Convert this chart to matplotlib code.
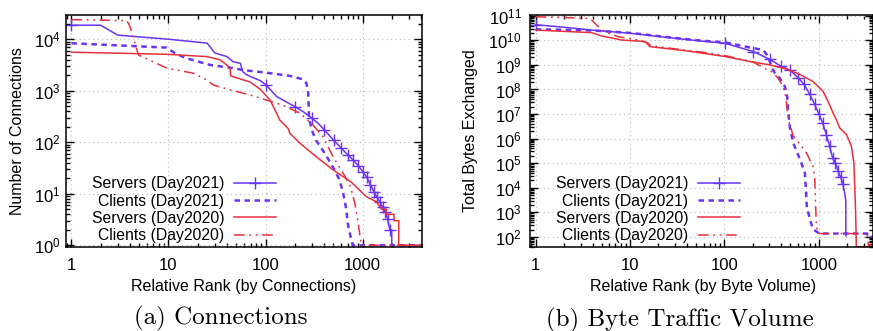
import numpy as np
import matplotlib
matplotlib.use("Agg")
import matplotlib.pyplot as plt
from matplotlib.ticker import LogLocator, NullFormatter, LogFormatterSciNotation

plt.rcParams['font.family'] = ['Liberation Sans', 'DejaVu Sans']
plt.rcParams['mathtext.fontset'] = 'custom'
plt.rcParams['mathtext.rm'] = 'Liberation Sans'

BLUE = '#6a34f5'
RED = '#e8303c'

labels = ['Servers (Day2021)', 'Clients (Day2021)', 'Servers (Day2020)', 'Clients (Day2020)']

# ---- (a) Connections ----
conn_s21_rank = [1, 2, 3, 10, 25, 30, 40, 46, 55, 58, 64, 88, 101, 130, 160, 201, 250, 301, 350, 401,
                 501, 601, 701, 801, 901, 1001, 1101, 1201, 1301, 1401, 1501, 1601, 1701, 1801, 1901, 1990, 1992]
conn_s21_val = [18700, 18700, 12000, 10000, 8400, 5400, 4600, 3670, 3400, 2350, 2030, 1570, 1300, 770, 620, 490, 380, 290, 230, 175,
                110, 77, 57, 45, 35, 27, 21, 15, 11, 8.5, 7, 5.5, 4.5, 3.3, 2, 2, 1]

conn_c21_rank = [1, 9.6, 11.6, 15.3, 26.7, 46, 58.6, 102, 178, 244, 263, 275, 280, 300, 330, 407, 514, 578, 630, 680, 700, 750, 790, 3950]
conn_c21_val = [8340, 6870, 5360, 4270, 3170, 2750, 2520, 2240, 1940, 1660, 1400, 900, 300, 170, 110, 61, 29, 18.5, 10.2, 4.8, 2.7, 1.47, 1, 1]

conn_s20_rank = [1, 9.6, 24.7, 33.8, 39.7, 43, 43.7, 69, 87.6, 111, 130, 140, 170, 178, 227, 334, 496, 757, 1090, 1380, 1570, 1750, 1750, 2100, 2100, 2350, 2350, 3950]
conn_s20_val = [5600, 5100, 4600, 4000, 3170, 2750, 1940, 1480, 1080, 660, 365, 270, 187, 149, 95, 52, 29, 17, 8.8, 7, 5, 5, 4, 4, 3, 3, 1, 1]

conn_c20_rank = [1, 3.7, 3.9, 4.17, 4.9, 9.6, 18, 24.7, 29, 43, 69, 102, 150, 227, 307, 390, 496, 630, 750, 830, 890, 930, 970, 3950]
conn_c20_val = [24000, 23000, 19900, 14000, 4950, 2750, 2190, 1620, 1290, 1040, 830, 660, 525, 365, 217, 128, 52, 25, 13.7, 6.5, 3.1, 1.7, 1, 1]

# ---- (b) Byte Traffic Volume ----
byte_s21_rank = [1, 2, 4, 10, 30, 55, 101, 201, 301, 401, 501, 601, 701, 801, 901, 1001, 1101, 1201, 1301,
                 1401, 1501, 1601, 1701, 1801, 1880, 1930, 1935]
byte_s21_val = [4.3e10, 3.4e10, 2.6e10, 1.93e10, 1.2e10, 9.4e9, 7.6e9, 3.5e9, 1.7e9, 8.6e8, 6.0e8, 3.0e8, 1.6e8, 6.3e7, 2.5e7,
                1.0e7, 4.2e6, 1.45e6, 4.9e5, 1.6e5, 1.05e5, 4.6e4, 2.8e4, 1.4e4, 6000, 3000, 110]

byte_c21_rank = [1, 1.7, 4, 10, 30, 55, 101, 201, 257, 290, 315, 342, 386, 437, 462, 473, 493, 535, 580, 634, 711, 730, 745,
                 804, 868, 980, 1000, 3250, 3300, 3750]
byte_c21_val = [2.8e10, 2.7e10, 2.5e10, 2.0e10, 1.25e10, 9.8e9, 8.3e9, 4.8e9, 4.1e9, 2.2e9, 8.5e8, 4.6e8, 2.9e8, 1.3e8, 5.2e7,
                1.5e7, 2.8e6, 6.8e5, 3.1e5, 1.4e5, 4.1e4, 8500, 1800, 525, 205, 150, 137, 137, 100, 100]

byte_s20_rank = [1, 3.9, 5, 8.1, 14.4, 16.3, 38, 101, 186, 302, 455, 634, 868, 1111, 1250, 1417, 1530, 1669, 1965, 2215, 2350,
                 2400, 2450, 2490, 2495, 3750]
byte_s20_val = [2.6e10, 2.05e10, 1.5e10, 1.03e10, 8.9e9, 5.5e9, 3.8e9, 2.2e9, 1.37e9, 1e9, 6.7e8, 4e8, 2.1e8, 8.3e7, 3.3e7,
                1.1e7, 5.9e6, 2.7e6, 1.45e6, 4.9e5, 1.04e5, 1.2e4, 1300, 80, 40, 40]

byte_c20_rank = [1, 3.76, 4.42, 5.4, 7.5, 12.2, 15.6, 16.5, 38, 62, 101, 201, 278, 315, 370, 419, 446, 462, 486, 535, 634, 739,
                 868, 907, 922, 943, 980, 1000, 3250, 3350, 3750]
byte_c20_val = [9.1e10, 7.8e10, 4.2e10, 2.2e10, 1.4e10, 1.03e10, 7.6e9, 6e9, 4e9, 3.2e9, 2.4e9, 1.3e9, 6.7e8, 5.4e8, 2.9e8,
                1.3e8, 5.2e7, 1.5e7, 4.4e6, 1.3e6, 5.8e5, 2.6e5, 7.6e4, 2.2e4, 2500, 280, 150, 137, 137, 45, 45]

W, H = 873, 331
fig = plt.figure(figsize=(W / 100, H / 100), dpi=100)


def px_axes(l, t, r, b):
    return fig.add_axes([l / W, 1 - b / H, (r - l) / W, (b - t) / H])


def style(ax, ypad):
    ax.set_xscale('log')
    ax.set_yscale('log')
    ax.xaxis.set_major_locator(LogLocator(base=10, numticks=20))
    ax.yaxis.set_major_locator(LogLocator(base=10, numticks=20))
    ax.xaxis.set_minor_locator(LogLocator(base=10, subs=np.arange(2, 10), numticks=20))
    ax.yaxis.set_minor_locator(LogLocator(base=10, subs=np.arange(2, 10), numticks=20))
    ax.xaxis.set_minor_formatter(NullFormatter())
    ax.yaxis.set_minor_formatter(NullFormatter())
    ax.xaxis.set_major_formatter(matplotlib.ticker.FuncFormatter(lambda v, p: '%d' % round(v)))
    ax.yaxis.set_major_formatter(LogFormatterSciNotation())
    ax.tick_params(which='both', direction='in', top=True, right=True, width=1.0, colors='black')
    ax.tick_params(which='major', length=5.5)
    ax.tick_params(which='minor', length=2.8)
    ax.tick_params(axis='x', which='major', pad=8, labelsize=12)
    ax.tick_params(axis='y', which='major', pad=ypad, labelsize=12)
    ax.grid(True, which='major', color='#b8b8b8', linestyle=(0, (1, 3)), linewidth=0.8)
    for s in ax.spines.values():
        s.set_linewidth(1.1)


def draw(ax, data):
    (r1, v1), (r2, v2), (r3, v3), (r4, v4) = data
    mk = [i for i, r in enumerate(r1) if float(r).is_integer() and (int(r) - 1) % 100 == 0]
    ax.plot(r1, v1, color=BLUE, lw=1.1, marker='+', markersize=8, markeredgewidth=1.0, markevery=mk, label=labels[0])
    ax.plot(r2, v2, color=BLUE, lw=1.8, linestyle=(0, (2.2, 1.8)), label=labels[1])
    ax.plot(r3, v3, color=RED, lw=1.1, label=labels[2])
    ax.plot(r4, v4, color=RED, lw=1.1, linestyle=(0, (7, 3, 1.2, 3, 1.2, 3)), label=labels[3])


ax1 = px_axes(66, 15, 421.7, 246.7)
style(ax1, 4.0)
draw(ax1, [(conn_s21_rank, conn_s21_val), (conn_c21_rank, conn_c21_val),
           (conn_s20_rank, conn_s20_val), (conn_c20_rank, conn_c20_val)])
ax1.set_xlim(0.88, 4050)
ax1.set_ylim(0.94, 29500)

ax2 = px_axes(530, 15, 873, 246.7)
style(ax2, 6)
draw(ax2, [(byte_s21_rank, byte_s21_val), (byte_c21_rank, byte_c21_val),
           (byte_s20_rank, byte_s20_val), (byte_c20_rank, byte_c20_val)])
ax2.set_xlim(0.87, 3750)
ax2.set_ylim(40, 1.07e11)

for ax, lx, xlab, xcx, ylx, ylab in [(ax1, 276, 'Relative Rank (by Connections)', 243.8, 18, 'Number of Connections'),
                                      (ax2, 740, 'Relative Rank (by Byte Volume)', 703, 471, 'Total Bytes Exchanged')]:
    leg = ax.legend(loc='upper right', bbox_to_anchor=(lx / W, 1 - 176.5 / H), bbox_transform=fig.transFigure,
                    frameon=False, markerfirst=False,
                    fontsize=11.3, handlelength=2.7, handletextpad=0.6, labelspacing=0.14, borderpad=0,
                    borderaxespad=0)
    ax.set_xlabel(xlab, fontsize=11.5)
    ax.xaxis.label.set_va('center')
    ax.xaxis.set_label_coords(xcx / W, 1 - 287 / H, transform=fig.transFigure)
    ax.set_ylabel(ylab, fontsize=11.5)
    ax.yaxis.label.set_va('center')
    ax.yaxis.set_label_coords(ylx / W, 1 - 131 / H, transform=fig.transFigure)

fig.text(220.8 / W, 1 - 318 / H, '(a) Connections', family='cmr10', fontsize=18, ha='center', va='center')
fig.text(680 / W, 1 - 320 / H, '(b) Byte Traffic Volume', family='cmr10', fontsize=18, ha='center', va='center')

fig.savefig('out.png', dpi=100)
